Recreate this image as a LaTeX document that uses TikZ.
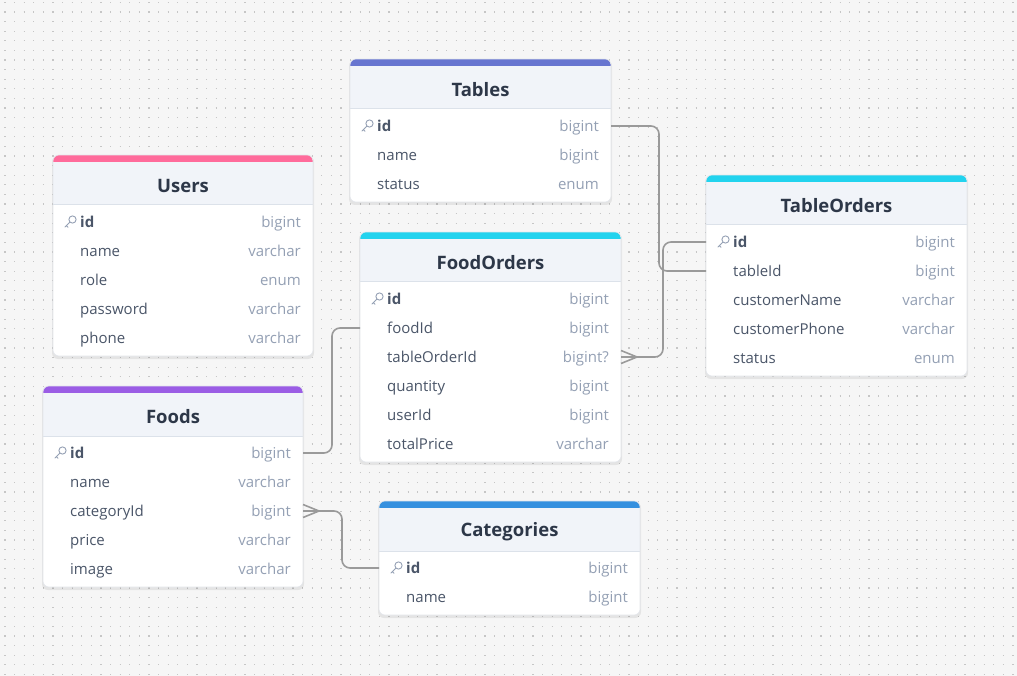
\documentclass[tikz,border=0pt]{standalone}
\usepackage{fontspec}
\setmainfont{Open Sans}
\usetikzlibrary{calc}

\definecolor{canvas}{HTML}{F6F6F6}
\definecolor{griddot}{HTML}{C6C6C6}
\definecolor{headbg}{HTML}{F1F4F9}
\definecolor{headline}{HTML}{DCE2EA}
\definecolor{cardline}{HTML}{E3E6EB}
\definecolor{titlecol}{HTML}{2D3748}
\definecolor{fieldcol}{HTML}{4A5568}
\definecolor{typecol}{HTML}{94A0B4}
\definecolor{linkcol}{HTML}{9A9A9A}
\definecolor{barTables}{HTML}{6775D0}
\definecolor{barUsers}{HTML}{FF6B9B}
\definecolor{barCyan}{HTML}{22D3EE}
\definecolor{barFoods}{HTML}{9B5DE5}
\definecolor{barCats}{HTML}{3590DF}

% card: left, top, right, number of rows, bar colour
\newcommand{\dbcard}[5]{%
  \pgfmathsetmacro{\hb}{#2+50}%
  \pgfmathsetmacro{\cb}{#2+50+29*#4+6}%
  \fill[black,opacity=0.07,rounded corners=6] (#1-1,#2+1) rectangle (#3+1,\cb+3);
  \fill[white,rounded corners=6] (#1,#2) rectangle (#3,\cb);
  \begin{scope}
    \clip[rounded corners=6] (#1,#2) rectangle (#3,\cb);
    \fill[headbg] (#1,#2) rectangle (#3,\hb);
    \fill[#5] (#1,#2) rectangle (#3,#2+7);
  \end{scope}
  \draw[headline,line width=1pt] (#1,\hb) -- (#3,\hb);
  \draw[cardline,line width=0.6pt,rounded corners=6] (#1,#2) rectangle (#3,\cb);
}
% key icon in front of a primary key
\newcommand{\pkey}[2]{%
  \draw[typecol,line width=0.9pt] (#1+19.5,#2-2.5) circle (3.6);
  \draw[typecol,line width=0.9pt,line cap=round] (#1+16.9,#2+0.1) -- (#1+12,#2+5) (#1+13.4,#2+3.6) -- (#1+15,#2+5.2);
}

\begin{document}
\begin{tikzpicture}[x=1pt,y=-1pt]
\tikzstyle{title}=[font=\fontsize{18.5}{22}\selectfont\bfseries,text=titlecol,inner sep=0pt]
\tikzstyle{field}=[anchor=west,inner xsep=27pt,inner ysep=0pt,text height=12pt,text depth=1pt,font=\fontsize{15}{18}\selectfont,text=fieldcol]
\tikzstyle{pk}=[field,font=\fontsize{15}{18}\selectfont\bfseries]
\tikzstyle{type}=[anchor=east,inner xsep=12pt,inner ysep=0pt,text height=12pt,text depth=1pt,font=\fontsize{15}{18}\selectfont,text=typecol]
\tikzstyle{link}=[draw=linkcol,line width=1.6pt,rounded corners=8]
\tikzstyle{crow}=[draw=linkcol,line width=1.6pt]

\useasboundingbox (0,0) rectangle (1017,676);
\fill[canvas] (0,0) rectangle (1017,676);
% dotted grid
\foreach \gy in {0,...,70}
  \draw[griddot,line width=1.2pt,dash pattern=on 1.2pt off 8.4pt] (4.4,2.4+9.6*\gy) -- (1017,2.4+9.6*\gy);

% Tables
\dbcard{350}{59}{611}{3}{barTables}
\node [title] (tables) at (480.5,89.5) {Tables};
\pkey{350}{126}
\node [pk] (tab-id) at (350,126) {id};
\node [type] (tab-id-t) at (611,126) {bigint};
\node [field] (tab-name) at (350,155) {name};
\node [type] (tab-name-t) at (611,155) {bigint};
\node [field] (tab-status) at (350,184) {status};
\node [type] (tab-status-t) at (611,184) {enum};

% Users
\dbcard{53}{155}{313}{5}{barUsers}
\node [title] (users) at (183,185.5) {Users};
\pkey{53}{222}
\node [pk] (usr-id) at (53,222) {id};
\node [type] (usr-id-t) at (313,222) {bigint};
\node [field] (usr-name) at (53,251) {name};
\node [type] (usr-name-t) at (313,251) {varchar};
\node [field] (usr-role) at (53,280) {role};
\node [type] (usr-role-t) at (313,280) {enum};
\node [field] (usr-password) at (53,309) {password};
\node [type] (usr-password-t) at (313,309) {varchar};
\node [field] (usr-phone) at (53,338) {phone};
\node [type] (usr-phone-t) at (313,338) {varchar};

% FoodOrders
\dbcard{360}{232}{621}{6}{barCyan}
\node [title] (foodorders) at (490.5,262.5) {FoodOrders};
\pkey{360}{299}
\node [pk] (fo-id) at (360,299) {id};
\node [type] (fo-id-t) at (621,299) {bigint};
\node [field] (fo-foodId) at (360,328) {foodId};
\node [type] (fo-foodId-t) at (621,328) {bigint};
\node [field] (fo-tableOrderId) at (360,357) {tableOrderId};
\node [type] (fo-tableOrderId-t) at (621,357) {bigint?};
\node [field] (fo-quantity) at (360,386) {quantity};
\node [type] (fo-quantity-t) at (621,386) {bigint};
\node [field] (fo-userId) at (360,415) {userId};
\node [type] (fo-userId-t) at (621,415) {bigint};
\node [field] (fo-totalPrice) at (360,444) {totalPrice};
\node [type] (fo-totalPrice-t) at (621,444) {varchar};

% TableOrders
\dbcard{706}{175}{967}{5}{barCyan}
\node [title] (tableorders) at (836.5,205.5) {TableOrders};
\pkey{706}{242}
\node [pk] (to-id) at (706,242) {id};
\node [type] (to-id-t) at (967,242) {bigint};
\node [field] (to-tableId) at (706,271) {tableId};
\node [type] (to-tableId-t) at (967,271) {bigint};
\node [field] (to-customerName) at (706,300) {customerName};
\node [type] (to-customerName-t) at (967,300) {varchar};
\node [field] (to-customerPhone) at (706,329) {customerPhone};
\node [type] (to-customerPhone-t) at (967,329) {varchar};
\node [field] (to-status) at (706,358) {status};
\node [type] (to-status-t) at (967,358) {enum};

% Foods
\dbcard{43}{386}{303}{5}{barFoods}
\node [title] (foods) at (173,416.5) {Foods};
\pkey{43}{453}
\node [pk] (fd-id) at (43,453) {id};
\node [type] (fd-id-t) at (303,453) {bigint};
\node [field] (fd-name) at (43,482) {name};
\node [type] (fd-name-t) at (303,482) {varchar};
\node [field] (fd-categoryId) at (43,511) {categoryId};
\node [type] (fd-categoryId-t) at (303,511) {bigint};
\node [field] (fd-price) at (43,540) {price};
\node [type] (fd-price-t) at (303,540) {varchar};
\node [field] (fd-image) at (43,569) {image};
\node [type] (fd-image-t) at (303,569) {varchar};

% Categories
\dbcard{379}{501}{640}{2}{barCats}
\node [title] (categories) at (509.5,531.5) {Categories};
\pkey{379}{568}
\node [pk] (cat-id) at (379,568) {id};
\node [type] (cat-id-t) at (640,568) {bigint};
\node [field] (cat-name) at (379,597) {name};
\node [type] (cat-name-t) at (640,597) {bigint};

% relations
\draw [link] (tab-id-t.east) -- ++(48,0) |- (to-tableId.west);
\draw [link] (fo-tableOrderId-t.east) -- ++(42,0) |- (to-id.west);
\draw [crow] ($(fo-tableOrderId-t.east)+(0,-6.5)$) -- ++(16,6.5) -- ++(-16,6.5);
\draw [link] (fd-id-t.east) -- ++(29,0) |- (fo-foodId.west);
\draw [link] (fd-categoryId-t.east) -- ++(39,0) |- (cat-id.west);
\draw [crow] ($(fd-categoryId-t.east)+(0,-6.5)$) -- ++(16,6.5) -- ++(-16,6.5);
\end{tikzpicture}
\end{document}
